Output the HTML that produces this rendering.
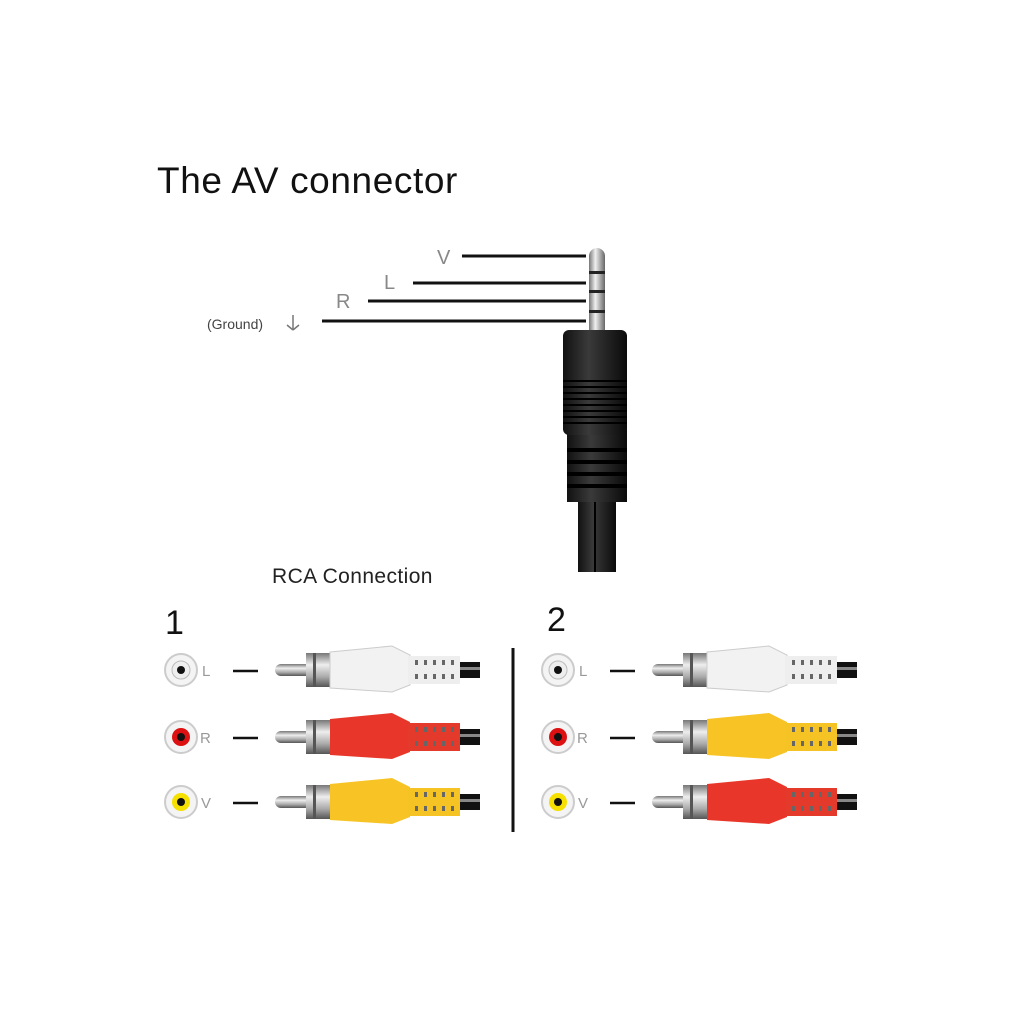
<!DOCTYPE html>
<html><head><style>
html,body{margin:0;padding:0;background:#fff;}
svg{display:block;}
text{font-family:"Liberation Sans","DejaVu Sans",sans-serif;}
</style></head><body>
<svg width="1024" height="1024" viewBox="0 0 1024 1024" xmlns="http://www.w3.org/2000/svg">
<defs>
<linearGradient id="metal" x1="0" y1="0" x2="0" y2="1">
<stop offset="0" stop-color="#777"/><stop offset="0.35" stop-color="#eee"/><stop offset="0.7" stop-color="#aaa"/><stop offset="1" stop-color="#555"/></linearGradient>
<linearGradient id="metalh" x1="0" y1="0" x2="1" y2="0">
<stop offset="0" stop-color="#777"/><stop offset="0.4" stop-color="#f0f0f0"/><stop offset="1" stop-color="#666"/></linearGradient>
<linearGradient id="blk" x1="0" y1="0" x2="1" y2="0">
<stop offset="0" stop-color="#111"/><stop offset="0.4" stop-color="#3a3a3a"/><stop offset="1" stop-color="#0a0a0a"/></linearGradient>
<g id="plug">
<rect x="455" y="-8" width="25" height="16" fill="#111"/>
<rect x="455" y="-3" width="25" height="3" fill="#888"/>
<rect x="275" y="-6" width="36" height="12" rx="6" fill="url(#metal)"/>
<rect x="306" y="-17" width="26" height="34" fill="url(#metal)"/>
<rect x="313" y="-17" width="3" height="34" fill="#555"/>
</g>
<g id="ridgeW" fill="#666"><rect x="415" y="-10" width="3" height="5"/><rect x="424" y="-10" width="3" height="5"/><rect x="433" y="-10" width="3" height="5"/><rect x="442" y="-10" width="3" height="5"/><rect x="451" y="-10" width="3" height="5"/><rect x="415" y="4" width="3" height="5"/><rect x="424" y="4" width="3" height="5"/><rect x="433" y="4" width="3" height="5"/><rect x="442" y="4" width="3" height="5"/><rect x="451" y="4" width="3" height="5"/></g>
</defs>
<text x="157" y="193" font-size="37" letter-spacing="0.6" fill="#111">The AV connector</text>
<text x="437" y="264" font-size="20" fill="#888">V</text>
<line x1="462" y1="256" x2="586" y2="256" stroke="#111" stroke-width="3"/>
<text x="384" y="289" font-size="20" fill="#888">L</text>
<line x1="413" y1="283" x2="586" y2="283" stroke="#111" stroke-width="3"/>
<text x="336" y="308" font-size="20" fill="#888">R</text>
<line x1="368" y1="301" x2="586" y2="301" stroke="#111" stroke-width="3"/>
<text x="207" y="329" font-size="14" fill="#444">(Ground)</text>
<g stroke="#777" stroke-width="1.5" fill="none"><line x1="293" y1="315" x2="293" y2="329"/><line x1="287" y1="325" x2="293" y2="330"/><line x1="299" y1="325" x2="293" y2="330"/></g>
<line x1="322" y1="321" x2="586" y2="321" stroke="#111" stroke-width="3"/>
<rect x="589" y="248" width="16" height="90" rx="8" fill="url(#metalh)"/>
<rect x="589" y="271" width="16" height="3" fill="#222"/>
<rect x="589" y="290" width="16" height="3" fill="#222"/>
<rect x="589" y="310" width="16" height="3" fill="#222"/>
<rect x="578" y="500" width="38" height="72" fill="url(#blk)"/>
<rect x="594" y="500" width="2" height="72" fill="#000"/>
<rect x="567" y="430" width="60" height="72" fill="url(#blk)"/>
<rect x="563" y="330" width="64" height="105" rx="6" fill="url(#blk)"/>
<g fill="#000">
<rect x="563" y="380" width="64" height="2"/><rect x="563" y="386" width="64" height="2"/><rect x="563" y="392" width="64" height="2"/><rect x="563" y="398" width="64" height="2"/><rect x="563" y="404" width="64" height="2"/><rect x="563" y="410" width="64" height="2"/><rect x="563" y="416" width="64" height="2"/><rect x="563" y="422" width="64" height="2"/>
<rect x="567" y="448" width="60" height="4"/><rect x="567" y="460" width="60" height="4"/><rect x="567" y="472" width="60" height="4"/><rect x="567" y="484" width="60" height="4"/></g>
<text x="272" y="583" font-size="21" letter-spacing="0.4" fill="#222">RCA Connection</text>
<text x="165" y="634" font-size="34" fill="#111">1</text>
<text x="547" y="631" font-size="34" fill="#111">2</text>
<line x1="513" y1="648" x2="513" y2="832" stroke="#111" stroke-width="3"/>
<g id="sock">
<g transform="translate(181,670)"><circle r="16" fill="#f4f4f4" stroke="#ccc" stroke-width="2"/><circle r="9" fill="#eee" stroke="#bbb"/><circle r="4" fill="#111"/></g>
<g transform="translate(181,737)"><circle r="16" fill="#f4f4f4" stroke="#ccc" stroke-width="2"/><circle r="9" fill="#d11"/><circle r="4" fill="#111"/></g>
<g transform="translate(181,802)"><circle r="16" fill="#f4f4f4" stroke="#ccc" stroke-width="2"/><circle r="9" fill="#f5e000"/><circle r="4" fill="#111"/></g>
<text x="202" y="676" font-size="15" fill="#999">L</text>
<text x="200" y="743" font-size="15" fill="#999">R</text>
<text x="201" y="808" font-size="15" fill="#999">V</text>
<g stroke="#111" stroke-width="2.5"><line x1="233" y1="671" x2="258" y2="671"/><line x1="233" y1="738" x2="258" y2="738"/><line x1="233" y1="803" x2="258" y2="803"/></g>
</g>
<use href="#sock" transform="translate(377,0)"/>
<g transform="translate(0,670)"><use href="#plug"/>
<path d="M330,-18 L392,-24 L410,-15 L410,15 L392,22 L330,18 Z" fill="#f2f2f2" stroke="#ccc"/>
<rect x="408" y="-14" width="52" height="28" fill="#eee"/><use href="#ridgeW"/></g>
<g transform="translate(0,737)"><use href="#plug"/>
<path d="M330,-18 L392,-24 L410,-15 L410,15 L392,22 L330,18 Z" fill="#e8372a"/>
<rect x="408" y="-14" width="52" height="28" fill="#e33a2c"/><use href="#ridgeW" fill="#8a1a10"/></g>
<g transform="translate(0,802)"><use href="#plug"/>
<path d="M330,-18 L392,-24 L410,-15 L410,15 L392,22 L330,18 Z" fill="#f7c325"/>
<rect x="408" y="-14" width="52" height="28" fill="#f5c324"/><use href="#ridgeW"/></g>
<g transform="translate(377,670)"><use href="#plug"/>
<path d="M330,-18 L392,-24 L410,-15 L410,15 L392,22 L330,18 Z" fill="#f2f2f2" stroke="#ccc"/>
<rect x="408" y="-14" width="52" height="28" fill="#eee"/><use href="#ridgeW"/></g>
<g transform="translate(377,737)"><use href="#plug"/>
<path d="M330,-18 L392,-24 L410,-15 L410,15 L392,22 L330,18 Z" fill="#f7c325"/>
<rect x="408" y="-14" width="52" height="28" fill="#f5c324"/><use href="#ridgeW"/></g>
<g transform="translate(377,802)"><use href="#plug"/>
<path d="M330,-18 L392,-24 L410,-15 L410,15 L392,22 L330,18 Z" fill="#e8372a"/>
<rect x="408" y="-14" width="52" height="28" fill="#e33a2c"/><use href="#ridgeW"/></g>
</svg>
</body></html>
